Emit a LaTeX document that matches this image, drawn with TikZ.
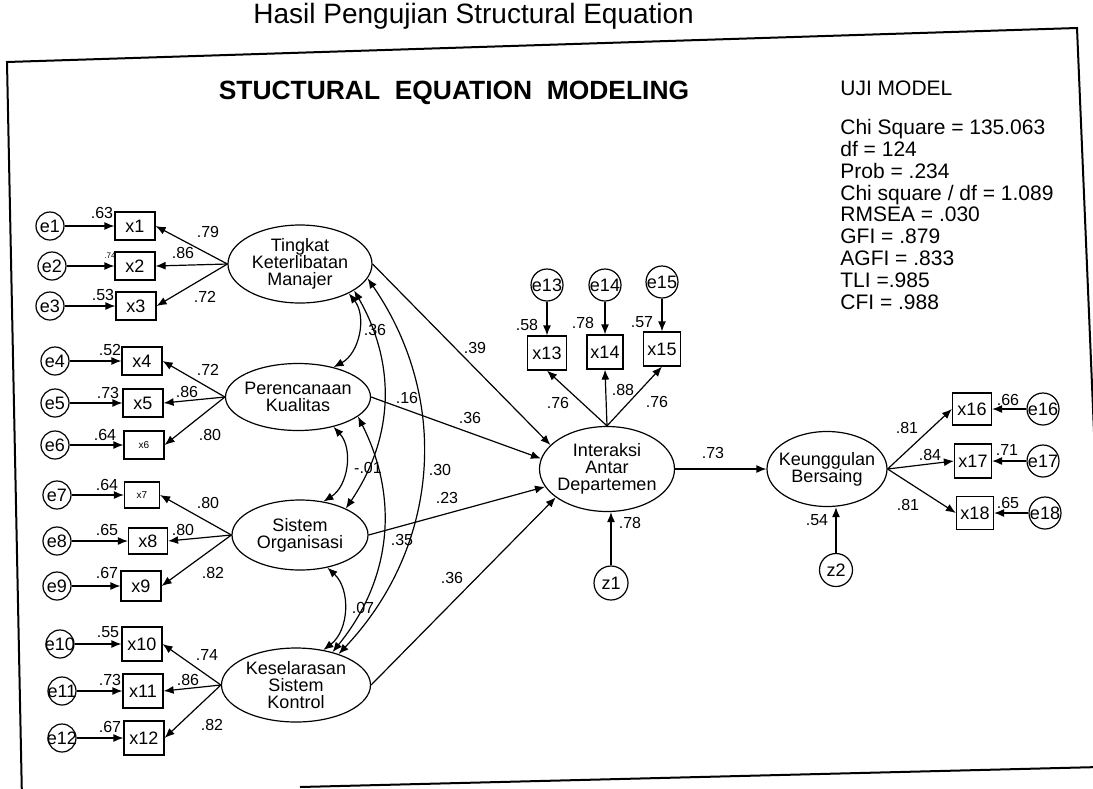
\documentclass[tikz,border=0pt]{standalone}
\usepackage{fontspec}
\setmainfont{Liberation Sans}
\usetikzlibrary{arrows.meta,shapes.geometric}
\tikzset{
  lat/.style={ellipse,draw,line width=0.6pt,align=center,inner xsep=-4pt,inner ysep=-1pt,font=\fontsize{9}{8.5}\selectfont},
  obs/.style={draw,line width=0.6pt,minimum width=20pt,minimum height=14pt,inner sep=1pt,font=\fontsize{9}{9}\selectfont},
  err/.style={circle,draw,line width=0.6pt,minimum size=14pt,inner sep=-1.5pt,font=\fontsize{9}{9}\selectfont},
  reg/.style={-{Latex[length=5pt,width=4pt]},line width=0.6pt},
  cov/.style={{Latex[length=5pt,width=4pt]}-{Latex[length=5pt,width=4pt]},line width=0.6pt},
  lbl/.style={font=\fontsize{8}{8}\selectfont,inner sep=0pt},
  rahmen/.style={line width=1pt},
}
\begin{document}
\begin{tikzpicture}[x=0.5pt,y=0.5pt]
  \useasboundingbox (0,0) rectangle (1093,-788);
  \clip (0,0) rectangle (1093,-788);
  % frame and headings
  \draw[rahmen] (22,-800) -- (7,-62) -- (1077,-28) -- (1096,-480);
  \draw[rahmen] (300,-787) -- (1100,-767);
  \node[anchor=base west,font=\fontsize{14}{14}\selectfont,inner sep=0] (hasil) at (253,-23) {Hasil Pengujian Structural Equation};
  \node[font=\bfseries\fontsize{13.2}{13.2}\selectfont] (judul) at (454,-93) {STUCTURAL\ \ EQUATION\ \ MODELING};
  \node[anchor=west,font=\fontsize{10.5}{10.5}\selectfont,inner sep=0] (uji) at (840,-88) {UJI MODEL};
  \node[anchor=north west,align=left,font=\fontsize{10.5}{10.9}\selectfont,inner sep=0] (fit) at (840,-119)
    {Chi Square = 135.063\\df = 124\\Prob = .234\\Chi square / df = 1.089\\RMSEA = .030\\GFI = .879\\AGFI = .833\\TLI =.985\\CFI = .988};

  % latent variables
  \node[lat,minimum width=72pt,minimum height=39pt] (tkm) at (300,-264) {Tingkat\\Keterlibatan\\Manajer};
  \node[lat,minimum width=72.5pt,minimum height=33.5pt] (pk) at (298,-397) {Perencanaan\\Kualitas};
  \node[lat,minimum width=68pt,minimum height=35pt] (so) at (300,-535) {Sistem\\Organisasi};
  \node[lat,minimum width=74.5pt,minimum height=37pt] (ksk) at (296,-685) {Keselarasan\\Sistem\\Kontrol};
  \node[lat,minimum width=67.5pt,minimum height=42.5pt] (iad) at (607,-469) {Interaksi\\Antar\\Departemen};
  \node[lat,minimum width=60pt,minimum height=37.5pt] (kb) at (827,-469) {Keunggulan\\Bersaing};

  % indicators left
  \node[obs] (x1) at (135,-226) {x1};
  \node[obs] (x2) at (135,-266) {x2};
  \node[obs] (x3) at (136,-306) {x3};
  \node[obs] (x4) at (142,-361) {x4};
  \node[obs] (x5) at (143,-403) {x5};
  \node[obs,font=\fontsize{5}{5}\selectfont] (x6) at (144,-445) {x6};
  \node[obs,minimum width=17.5pt,minimum height=13pt,font=\fontsize{5}{5}\selectfont] (x7) at (142,-495) {x7};
  \node[obs,minimum width=19.5pt,minimum height=13pt] (x8) at (148,-541) {x8};
  \node[obs,minimum height=15pt] (x9) at (141,-586) {x9};
  \node[obs,minimum height=17pt] (x10) at (142,-644) {x10};
  \node[obs,minimum height=17pt] (x11) at (143,-691) {x11};
  \node[obs,minimum height=17pt] (x12) at (144,-738) {x12};
  \node[err] (e1) at (50,-226) {e1};
  \node[err] (e2) at (52,-266) {e2};
  \node[err] (e3) at (50,-306) {e3};
  \node[err] (e4) at (55,-361) {e4};
  \node[err] (e5) at (55,-403) {e5};
  \node[err] (e6) at (55,-445) {e6};
  \node[err] (e7) at (57,-495) {e7};
  \node[err] (e8) at (57,-541) {e8};
  \node[err] (e9) at (57,-586) {e9};
  \node[err] (e10) at (60,-644) {e10};
  \node[err] (e11) at (62,-691) {e11};
  \node[err] (e12) at (62,-738) {e12};

  % indicators right
  \node[obs,minimum width=19.5pt,minimum height=17pt] (x13) at (547,-353) {x13};
  \node[obs,minimum width=18pt,minimum height=17pt] (x14) at (605,-352) {x14};
  \node[obs,minimum width=18.5pt,minimum height=17pt] (x15) at (662,-349) {x15};
  \node[err,minimum size=16pt] (e13) at (547,-285) {e13};
  \node[err,minimum size=16pt] (e14) at (605,-285) {e14};
  \node[err,minimum size=16pt] (e15) at (662,-282) {e15};
  \node[obs,minimum width=19.5pt,minimum height=16pt] (x16) at (972,-409) {x16};
  \node[obs,minimum width=18.5pt,minimum height=17pt] (x17) at (973,-461) {x17};
  \node[obs,minimum width=18.5pt,minimum height=16.5pt] (x18) at (975,-513) {x18};
  \node[err,minimum size=16pt] (e16) at (1043,-409) {e16};
  \node[err,minimum size=16pt] (e17) at (1043,-461) {e17};
  \node[err,minimum size=16pt] (e18) at (1045,-513) {e18};
  \node[err,minimum size=17pt] (z1) at (611,-583) {z1};
  \node[err,minimum size=16.5pt] (z2) at (836,-570) {z2};

  % measurement arrows
  \foreach \i in {1,...,12} \draw[reg] (e\i) -- (x\i);
  \foreach \i in {13,14,15} \draw[reg] (e\i) -- (x\i);
  \foreach \i in {16,17,18} \draw[reg] (e\i) -- (x\i);
  \draw[reg] (tkm.west) -- (x1.east);
  \draw[reg] (tkm.west) -- (x2.east);
  \draw[reg] (tkm.west) -- (x3.east);
  \draw[reg] (pk.west) -- (x4.east);
  \draw[reg] (pk.west) -- (x5.east);
  \draw[reg] (pk.west) -- (x6.east);
  \draw[reg] (so.west) -- (x7.east);
  \draw[reg] (so.west) -- (x8.east);
  \draw[reg] (so.west) -- (x9.east);
  \draw[reg] (ksk.west) -- (x10.east);
  \draw[reg] (ksk.west) -- (x11.east);
  \draw[reg] (ksk.west) -- (x12.east);
  \draw[reg] (iad.north) -- (x13.south);
  \draw[reg] (iad.north) -- (x14.south);
  \draw[reg] (iad.north) -- (x15.south);
  \draw[reg] (kb.east) -- (x16.west);
  \draw[reg] (kb.east) -- (x17.west);
  \draw[reg] (kb.east) -- (x18.west);

  % structural paths
  \draw[reg] (tkm.east) -- (iad.157);
  \draw[reg] (pk.east) -- (iad.171);
  \draw[reg] (so.east) -- (iad.196);
  \draw[reg] (ksk.east) -- (iad.209);
  \draw[reg] (iad.east) -- (kb.west);
  \draw[reg] (z1.north) -- (z1.north |- iad.south);
  \draw[reg] (z2.north) -- (z2.north |- kb.south);

  % covariances
  \draw[cov] (tkm.-31) to[bend left=50] (pk.40);
  \draw[cov] (tkm.-26) to[bend left=32] (so.30);
  \draw[cov] (tkm.-12) to[bend left=39] (ksk.36);
  \draw[cov] (pk.-40) to[bend left=50] (so.55);
  \draw[cov] (pk.-18) to[bend left=33] (ksk.42);
  \draw[cov] (so.-50) to[bend left=50] (ksk.52);

  % estimates
  \node[lbl] (r1) at (102,-213) {.63};
  \node[lbl,font=\fontsize{4}{4}\selectfont] (r2) at (110,-256) {.74};
  \node[lbl] (r3) at (103,-295) {.53};
  \node[lbl] (r4) at (110,-350) {.52};
  \node[lbl] (r5) at (108,-393) {.73};
  \node[lbl] (r6) at (105,-435) {.64};
  \node[lbl] (r7) at (107,-485) {.64};
  \node[lbl] (r8) at (107,-530) {.65};
  \node[lbl] (r9) at (107,-573) {.67};
  \node[lbl] (r10) at (108,-632) {.55};
  \node[lbl] (r11) at (110,-680) {.73};
  \node[lbl] (r12) at (110,-727) {.67};
  \node[lbl] (l1) at (208,-232) {.79};
  \node[lbl] (l2) at (183,-253) {.86};
  \node[lbl] (l3) at (205,-297) {.72};
  \node[lbl] (l4) at (208,-370) {.72};
  \node[lbl] (l5) at (187,-392) {.86};
  \node[lbl] (l6) at (210,-435) {.80};
  \node[lbl] (l7) at (208,-503) {.80};
  \node[lbl] (l8) at (183,-530) {.80};
  \node[lbl] (l9) at (213,-573) {.82};
  \node[lbl] (l10) at (207,-655) {.74};
  \node[lbl] (l11) at (188,-680) {.86};
  \node[lbl] (l12) at (212,-725) {.82};
  \node[lbl] (r13) at (527,-325) {.58};
  \node[lbl] (r14) at (583,-323) {.78};
  \node[lbl] (r15) at (642,-322) {.57};
  \node[lbl] (l13) at (558,-403) {.76};
  \node[lbl] (l14) at (623,-390) {.88};
  \node[lbl] (l15) at (657,-402) {.76};
  \node[lbl] (r16) at (1008,-400) {.66};
  \node[lbl] (r17) at (1007,-450) {.71};
  \node[lbl] (r18) at (1008,-503) {.65};
  \node[lbl] (l16) at (907,-428) {.81};
  \node[lbl] (l17) at (930,-455) {.84};
  \node[lbl] (l18) at (908,-505) {.81};
  \node[lbl] (b1) at (475,-348) {.39};
  \node[lbl] (b2) at (470,-418) {.36};
  \node[lbl] (b3) at (447,-498) {.23};
  \node[lbl] (b4) at (452,-578) {.36};
  \node[lbl] (b5) at (713,-453) {.73};
  \node[lbl] (rz1) at (630,-523) {.78};
  \node[lbl] (rz2) at (817,-520) {.54};
  \node[lbl] (c1) at (375,-330) {.36};
  \node[lbl] (c2) at (407,-398) {.16};
  \node[lbl] (c3) at (440,-470) {.30};
  \node[lbl] (c4) at (368,-468) {-.01};
  \node[lbl] (c5) at (402,-540) {.35};
  \node[lbl] (c6) at (363,-608) {.07};
\end{tikzpicture}
\end{document}
